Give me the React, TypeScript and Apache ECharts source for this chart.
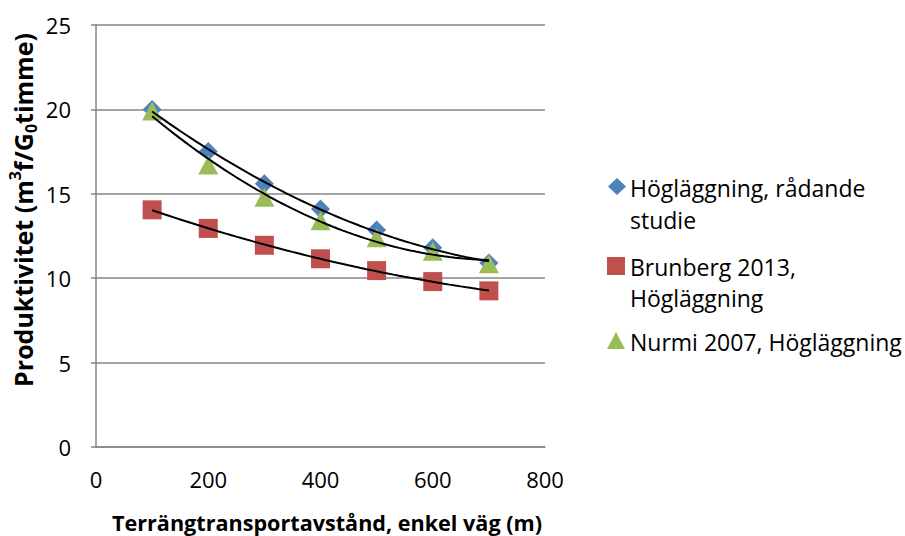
import React, { useEffect, useRef } from "react";
import * as echarts from "echarts";

const xValues = [100, 200, 300, 400, 500, 600, 700];
const hoglaggning = [20.0, 17.5, 15.6, 14.1, 12.85, 11.8, 10.9];
const brunberg = [14.05, 12.95, 11.95, 11.15, 10.45, 9.8, 9.25];
const nurmi = [19.9, 16.7, 14.8, 13.4, 12.4, 11.6, 10.85];
const seriesNames = ["Högläggning, rådande studie", "Brunberg 2013, Högläggning", "Nurmi 2007, Högläggning"];
const xTicks = [0, 200, 400, 600, 800];
const yTicks = [0, 5, 10, 15, 20, 25];

const FONT = "'Open Sans', 'Noto Sans', sans-serif";
const COLORS = ["#4F81BD", "#C0504D", "#9BBB59"];

// Quadratic least-squares trendline (as Excel's polynomial order 2 trendline)
function quadFit(xs: number[], ys: number[]) {
  const n = xs.length;
  let s0 = n, s1 = 0, s2 = 0, s3 = 0, s4 = 0, t0 = 0, t1 = 0, t2 = 0;
  for (let i = 0; i < n; i++) {
    const x = xs[i], y = ys[i];
    s1 += x; s2 += x * x; s3 += x * x * x; s4 += x * x * x * x;
    t0 += y; t1 += x * y; t2 += x * x * y;
  }
  const M = [
    [s0, s1, s2, t0],
    [s1, s2, s3, t1],
    [s2, s3, s4, t2],
  ];
  for (let c = 0; c < 3; c++) {
    for (let r = c + 1; r < 3; r++) {
      const f = M[r][c] / M[c][c];
      for (let k = c; k < 4; k++) M[r][k] -= f * M[c][k];
    }
  }
  const coef = [0, 0, 0];
  for (let r = 2; r >= 0; r--) {
    let s = M[r][3];
    for (let k = r + 1; k < 3; k++) s -= M[r][k] * coef[k];
    coef[r] = s / M[r][r];
  }
  const pts: number[][] = [];
  const x0 = xs[0], x1 = xs[xs.length - 1];
  for (let x = x0; x <= x1 + 1e-9; x += 10) {
    pts.push([x, coef[0] + coef[1] * x + coef[2] * x * x]);
  }
  return pts;
}

const toPairs = (ys: number[]) => xValues.map((x, i) => [x, ys[i]]);

export default function App() {
  const ref = useRef<HTMLDivElement>(null);
  useEffect(() => {
    if (!ref.current) return;
    const chart = echarts.init(ref.current, null, { renderer: "svg" });
    const datasets = [hoglaggning, brunberg, nurmi];
    const symbols = ["diamond", "rect", "triangle"];
    const sizes = [[19, 19], [19, 19], [20, 19]];
    const scatter = datasets.map((d, i) => ({
      type: "scatter",
      name: seriesNames[i],
      data: toPairs(d),
      symbol: symbols[i],
      symbolSize: sizes[i],
      itemStyle: { color: COLORS[i], opacity: 1 },
      z: 2,
    }));
    const trends = datasets.map((d) => ({
      type: "line",
      data: quadFit(xValues, d),
      showSymbol: false,
      symbol: "none",
      lineStyle: { color: "#000", width: 2 },
      z: 3,
      silent: true,
    }));
    const legendText = { fontFamily: FONT, fontSize: 23, fill: "#000", textVerticalAlign: "middle" };
    chart.setOption({
      animation: false,
      textStyle: { fontFamily: FONT },
      grid: { left: 96, right: 360, top: 25, bottom: 89, containLabel: false },
      xAxis: {
        type: "value",
        min: xTicks[0],
        max: xTicks[xTicks.length - 1],
        interval: 200,
        axisLine: { show: true, lineStyle: { color: "#868686", width: 1.5 } },
        axisTick: { show: false },
        splitLine: { show: false },
        axisLabel: { fontFamily: FONT, fontSize: 22, color: "#000", margin: 21 },
      },
      yAxis: {
        type: "value",
        min: yTicks[0],
        max: yTicks[yTicks.length - 1],
        interval: 5,
        axisLine: { show: true, lineStyle: { color: "#868686", width: 1.5 } },
        axisTick: { show: true, length: 5, inside: false, lineStyle: { color: "#868686", width: 1.5 } },
        splitLine: { show: true, lineStyle: { color: "#868686", width: 1.5 } },
        axisLabel: { fontFamily: FONT, fontSize: 22, color: "#000", margin: 25 },
      },
      graphic: [
        {
          type: "text",
          x: 23,
          y: 210,
          rotation: Math.PI / 2,
          style: {
            text: "Produktivitet (m{sup|3}f/G{sub|0}timme)",
            fontFamily: FONT,
            fontSize: 25,
            fontWeight: "bold",
            fill: "#000",
            align: "center",
            verticalAlign: "middle",
            rich: {
              sup: { fontSize: 16, fontWeight: "bold", fontFamily: FONT, verticalAlign: "top", lineHeight: 32 },
              sub: { fontSize: 16, fontWeight: "bold", fontFamily: FONT, verticalAlign: "bottom", lineHeight: 32 },
            },
          },
        },
        {
          type: "text",
          x: 327,
          y: 522,
          style: {
            text: "Terrängtransportavstånd, enkel väg (m)",
            fontFamily: FONT,
            fontSize: 21.6,
            fontWeight: "bold",
            fill: "#000",
            align: "center",
            verticalAlign: "middle",
          },
        },
        {
          type: "polygon",
          shape: { points: [[617, 178], [626, 186.5], [617, 195], [608, 186.5]] },
          style: { fill: COLORS[0] },
        },
        { type: "text", x: 630, y: 188, style: { ...legendText, text: "Högläggning, rådande" } },
        { type: "text", x: 630, y: 220, style: { ...legendText, text: "studie" } },
        {
          type: "rect",
          shape: { x: 607, y: 257, width: 18, height: 18 },
          style: { fill: COLORS[1] },
        },
        { type: "text", x: 630, y: 267, style: { ...legendText, text: "Brunberg 2013," } },
        { type: "text", x: 630, y: 298, style: { ...legendText, text: "Högläggning" } },
        {
          type: "polygon",
          shape: { points: [[616, 332], [625, 349], [607, 349]] },
          style: { fill: COLORS[2] },
        },
        { type: "text", x: 630, y: 342, style: { ...legendText, text: "Nurmi 2007, Högläggning" } },
      ],
      series: [...scatter, ...trends],
    });
    return () => chart.dispose();
  }, []);
  return <div ref={ref} style={{ width: 905, height: 536, position: "absolute", left: 0, top: 0 }} />;
}
